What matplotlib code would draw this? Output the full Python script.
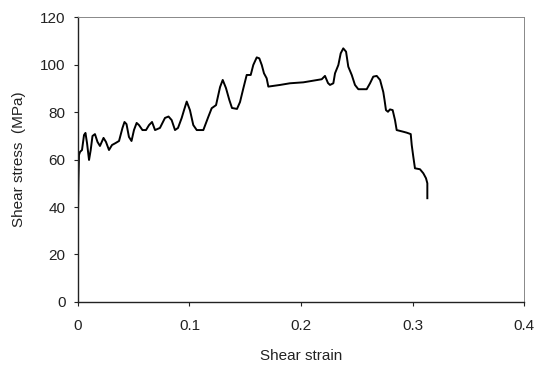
import matplotlib
matplotlib.use("Agg")
import matplotlib.pyplot as plt

plt.rcParams['font.family'] = ['Liberation Sans', 'DejaVu Sans']

strain = [0.0000, 0.0004, 0.0009, 0.0018, 0.0036, 0.0054, 0.0067, 0.0081, 0.0099, 0.0114,
          0.0130, 0.0152, 0.0175, 0.0197, 0.0229, 0.0251, 0.0278, 0.0305, 0.0336, 0.0368,
          0.0399, 0.0417, 0.0435, 0.0457, 0.0480, 0.0502, 0.0526, 0.0547, 0.0578, 0.0610,
          0.0637, 0.0664, 0.0691, 0.0735, 0.0780, 0.0812, 0.0840, 0.0870, 0.0897, 0.0930,
          0.0951, 0.0975, 0.1004, 0.1034, 0.1065, 0.1124, 0.1169, 0.1199, 0.1238, 0.1274,
          0.1298, 0.1327, 0.1357, 0.1381, 0.1426, 0.1453, 0.1483, 0.1513, 0.1549, 0.1572,
          0.1603, 0.1626, 0.1648, 0.1668, 0.1692, 0.1707, 0.1812, 0.1901, 0.2021, 0.2110,
          0.2186, 0.2215, 0.2242, 0.2260, 0.2290, 0.2305, 0.2335, 0.2356, 0.2379, 0.2404,
          0.2424, 0.2455, 0.2484, 0.2514, 0.2589, 0.2619, 0.2648, 0.2679, 0.2709, 0.2738,
          0.2749, 0.2762, 0.2780, 0.2798, 0.2822, 0.2843, 0.2858, 0.2917, 0.2948, 0.2984,
          0.2993, 0.3007, 0.3022, 0.3067, 0.3097, 0.3121, 0.3133, 0.3133]
stress = [36.6, 51.4, 61.9, 63.2, 64.0, 70.3, 71.2, 66.9, 59.8, 64.0,
          69.9, 70.7, 67.4, 65.7, 69.1, 67.4, 64.0, 66.1, 66.9, 67.8,
          73.3, 75.8, 74.9, 69.5, 67.8, 72.4, 75.4, 74.5, 72.4, 72.4,
          74.5, 75.8, 72.4, 73.3, 77.5, 78.1, 76.6, 72.4, 73.3, 77.5,
          80.8, 84.4, 80.8, 74.5, 72.4, 72.4, 78.0, 81.6, 82.9, 90.5,
          93.5, 90.1, 85.1, 81.7, 81.3, 84.2, 90.0, 95.6, 95.6, 99.8,
          103.0, 102.6, 99.8, 96.3, 94.2, 90.7, 91.4, 92.1, 92.5, 93.2,
          93.8, 95.2, 92.2, 91.4, 92.1, 96.3, 99.8, 104.7, 106.8, 105.4,
          99.1, 95.6, 91.4, 89.6, 89.6, 92.1, 94.9, 95.2, 93.5, 88.4,
          85.1, 80.8, 80.1, 81.1, 80.8, 76.6, 72.4, 71.7, 71.3, 70.7,
          66.1, 61.2, 56.3, 55.9, 54.2, 52.1, 50.0, 43.7]

xticks = [0, 0.1, 0.2, 0.3, 0.4]
xticklabels = ['0', '0.1', '0.2', '0.3', '0.4']
yticks = [0, 20, 40, 60, 80, 100, 120]

fig = plt.figure(figsize=(5.39, 3.70), dpi=100)
ax = fig.add_axes([0.1447, 0.1838, 0.9722 - 0.1447, 0.954 - 0.1838])
ax.plot(strain, stress, color='black', lw=1.4, solid_joinstyle='round')

ax.set_xlim(0, 0.4)
ax.set_ylim(0, 120)
ax.set_xticks(xticks)
ax.set_xticklabels(xticklabels)
ax.set_yticks(yticks)
ax.tick_params(axis='both', direction='out', length=3, width=0.8, labelsize=11,
               colors='#222222', top=False, right=False)
ax.tick_params(axis='x', pad=9)
ax.tick_params(axis='y', pad=6)
for s in ['left', 'bottom']:
    ax.spines[s].set_color('#222222')
    ax.spines[s].set_linewidth(1.0)
for s in ['top', 'right']:
    ax.spines[s].set_color('#888888')
    ax.spines[s].set_linewidth(0.7)

ax.set_xlabel('Shear strain', fontsize=11, color='#222222', labelpad=12)
ax.set_ylabel('Shear stress  (MPa)', fontsize=11, color='#222222', labelpad=10)

fig.savefig('out.png', dpi=100)
